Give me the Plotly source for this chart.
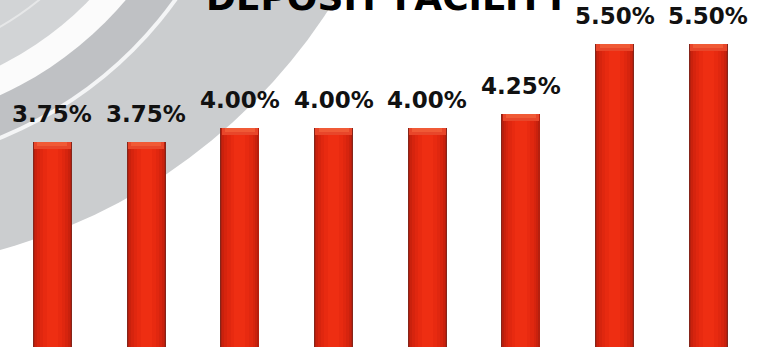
import plotly.graph_objects as go

# Deposit facility rate, one bar per decision
positions = [0, 1, 2, 3, 4, 5, 6, 7]
rates = [3.75, 3.75, 4.00, 4.00, 4.00, 4.25, 5.50, 5.50]
rate_labels = [f"{r:.2f}%" for r in rates]
title_text = "DEPOSIT FACILITY"

W, H = 763, 347

fig = go.Figure()

# Layered bars give each column a rounded, glossy red look
layers = [
    (0.416, "#86251a"),
    (0.398, "#b51f0e"),
    (0.372, "#c9210d"),
    (0.330, "#d6240e"),
    (0.270, "#e0270f"),
    (0.200, "#e82a10"),
    (0.120, "#ee2e12"),
]
for width, color in layers:
    fig.add_trace(go.Bar(
        x=positions, y=rates, width=width,
        marker=dict(color=color, line=dict(width=0)),
        hoverinfo="skip", showlegend=False,
    ))

# Light bevel along the top of each bar
cap = 0.12
fig.add_trace(go.Bar(
    x=positions, y=[cap] * len(rates), base=[r - cap for r in rates],
    width=0.39, marker=dict(color="#e8462a", line=dict(width=0)),
    hoverinfo="skip", showlegend=False,
))
fig.add_trace(go.Bar(
    x=positions, y=[cap * 0.6] * len(rates), base=[r - cap * 0.6 for r in rates],
    width=0.32, marker=dict(color="#f05a36", line=dict(width=0)),
    hoverinfo="skip", showlegend=False,
))

# Value labels above the bars
for x, r, t in zip(positions, rates, rate_labels):
    fig.add_annotation(
        x=x, y=r, text=t, showarrow=False, yanchor="bottom", yshift=13,
        font=dict(family="DejaVu Sans", size=23, color="#111111", weight="bold"),
    )

# Title, partly running off the top edge
fig.add_annotation(
    x=388 / W, y=1 - 20 / H, xref="paper", yref="paper",
    text=title_text, showarrow=False, yanchor="bottom", xanchor="center",
    font=dict(family="DejaVu Sans", size=36, color="#000000", weight="bold"),
)


def disc(cx, cy, r, fill, line_color=None, line_width=0):
    """Circle in pixel coordinates, drawn behind the bars."""
    return dict(
        type="circle", xref="paper", yref="paper", layer="below",
        x0=(cx - r) / W, x1=(cx + r) / W,
        y0=1 - (cy + r) / H, y1=1 - (cy - r) / H,
        fillcolor=fill,
        line=dict(color=line_color or fill, width=line_width),
    )


# Grey swirl in the upper-left background
shapes = [
    disc(-150, -300, 570, "#cbcdcf"),
    disc(-150, -233, 402, "#f4f5f6"),
    disc(-150, -233, 398, "#bfc1c4"),
    disc(-150, -233, 361, "#fbfbfb"),
    disc(-150, -233, 334, "#d2d4d6"),
    disc(-150, -233, 300, "rgba(0,0,0,0)", "#e6e7e8", 2),
    disc(-150, -233, 272, "rgba(0,0,0,0)", "#e2e3e4", 2),
]

fig.update_layout(
    width=W, height=H,
    margin=dict(l=0, r=0, t=0, b=0),
    paper_bgcolor="white", plot_bgcolor="white",
    barmode="overlay", bargap=0,
    shapes=shapes,
    xaxis=dict(range=[-0.56, 7.583], visible=False, fixedrange=True),
    yaxis=dict(range=[0.089, 6.286], visible=False, fixedrange=True),
)

fig.write_html("out.html")
